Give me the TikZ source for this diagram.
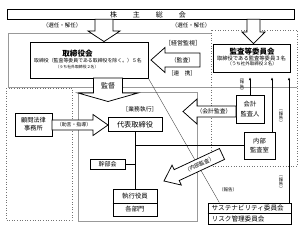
\documentclass[tikz,border=0pt]{standalone}
\usepackage{fontspec}
\setmainfont{Noto Sans CJK JP}
\usetikzlibrary{arrows.meta,calc}
\newcommand\fs[1]{\fontsize{#1}{#1}\selectfont}
\begin{document}
\begin{tikzpicture}[x=1pt,y=-1pt,
 box/.style={draw=black,line width=0.9pt,fill=white,inner sep=0pt,align=center},
 lbl/.style={inner sep=0pt,align=center},
 blk/.style={draw=black,line width=0.75pt,fill=white,line join=miter},
 grayframe/.style={draw=black!40,line width=0.6pt},
 dotframe/.style={draw=black!55,line width=0.6pt,dotted},
 rep/.style={draw=black,line width=0.45pt,-{Latex[length=2.6pt,width=2.4pt]},shorten >=5pt},
 link/.style={draw=black,line width=1pt},
 thinln/.style={draw=black!70,line width=0.4pt}]
\useasboundingbox (0,0) rectangle (300,226);

% frames
\draw[grayframe] (211,33) -- (8,33) -- (8,87) -- (297,87);
\draw[grayframe] (78,92) rectangle (197,221);
\draw[dotframe] (211,30) rectangle (297,166);
\draw[dotframe] (6,88) rectangle (72,220);

% boxes
\node[box,minimum width=287pt,minimum height=9.5pt] (kabu) at (150.5,14.25) {};
\node[lbl,font=\fs{7}] (kabuT) at (148,14.5) {株\hspace{16pt}主\hspace{16pt}総\hspace{16pt}会};

\node[box,minimum width=118pt,minimum height=36pt] (tori) at (89,60) {};
\node[lbl,font=\fs{7.6}\bfseries] (toriT) at (77.5,53.3) {取締役会};
\node[lbl,font=\fs{4.9}] (toriA) at (88,61) {取締役（監査等委員である取締役を除く。）５名};
\node[lbl,font=\fs{3.9}] (toriB) at (77,66.8) {（うち社外取締役２名）};

\node[box,minimum width=77pt,minimum height=28pt] (kansa) at (251.5,58) {};
\node[lbl,font=\fs{7.5}\bfseries] (kansaT) at (252,51.5) {監査等委員会};
\node[lbl,font=\fs{5.3}] (kansaA) at (251.5,58.2) {取締役である監査等委員３名};
\node[lbl,font=\fs{4.5}] (kansaB) at (252,64) {（うち社外取締役３名）};

\node[box,minimum width=37pt,minimum height=23pt,font=\fontsize{6.2}{7.8}\selectfont] (komon) at (33.5,124.5) {顧問法律\\事務所};
\node[box,minimum width=54pt,minimum height=13.5pt,font=\fs{7.2}] (daihyo) at (135,124.5) {代表取締役};
\node[box,minimum width=35pt,minimum height=10pt,font=\fs{6}] (kanbu) at (107.5,164) {幹部会};

\node[box,minimum width=44pt,minimum height=27pt] (shikko) at (135,202.5) {};
\draw[line width=0.6pt] (shikko.west |- 0,203) -- (shikko.east |- 0,203);
\node[lbl,font=\fs{6.4}] (shikkoT) at (135,196) {執行役員};
\node[lbl,font=\fs{6.4}] (bumon) at (135,209.5) {各部門};

\node[box,minimum width=28pt,minimum height=28pt,font=\fontsize{6.3}{9.5}\selectfont] (kaikei) at (250,109) {会計\\監査人};
\node[box,minimum width=31pt,minimum height=27pt,font=\fontsize{6.3}{9.5}\selectfont] (naibu) at (259.5,145.5) {内部\\監査室};

\node[box,minimum width=83pt,minimum height=21pt] (sus) at (249.5,213.5) {};
\draw[line width=0.6pt] (sus.west) -- (sus.east);
\node[lbl,font=\fs{6.6},anchor=west] (susT) at (211.5,208.4) {サステナビリティ委員会};
\node[lbl,font=\fs{6.6},anchor=west] (risk) at (211.5,218.8) {リスク管理委員会};

% thin connectors
\draw[thinln] (tori.south east) -- ($(sus.north west)!0.14!(sus.north east)$);
\draw[link] (daihyo.south) -- (shikko.north);
\draw[link] (kanbu.east) -- (kanbu.east -| daihyo.south);
\draw[link] (naibu.west -| daihyo.south) -- (naibu.west);
\draw[rep] (kaikei.north) -- (kaikei.north |- kansa.south);
\draw[rep] (naibu.north -| 272,0) -- (kansa.south -| 272,0);
\draw[rep] (sus.north -| 289,0) -- (kansa.south -| 289,0);

% block arrows
\draw[blk] (95,19.2) -- (113,19.2) -- (113,31) -- (120,31) -- (104,41.6) -- (88,31) -- (95,31) -- cycle;
\draw[blk] (247,19.2) -- (260,19.2) -- (260,32) -- (265,32) -- (253.5,43.6) -- (242,32) -- (247,32) -- cycle;
\draw[blk] (200,53) -- (165,53) -- (165,47.5) -- (151,60) -- (165,72.5) -- (165,67) -- (200,67) -- cycle;
\draw[blk] (93.5,78) -- (122.5,78) -- (122.5,93) -- (138,93) -- (108,101.5) -- (78,93) -- (93.5,93) -- cycle;
\draw[blk] (52,120) -- (93,120) -- (93,114.5) -- (108,125) -- (93,135.5) -- (93,130) -- (52,130) -- cycle;
\draw[blk] (236,106) -- (197,106) -- (197,99) -- (183,111.5) -- (197,124) -- (197,117) -- (236,117) -- cycle;
\begin{scope}[shift={(164,181)},rotate=25]
\draw[blk] (0,0) -- (14,-11) -- (14,-6) -- (64,-6) -- (64,6) -- (14,6) -- (14,11) -- cycle;
\node[lbl,font=\fs{5.3},rotate=25] (naibuL) at (39,0) {（内部監査）};
\end{scope}

% labels
\node[lbl,font=\fs{5.5}] (senL) at (62,25) {（選任・解任）};
\node[lbl,font=\fs{5.5}] (senR) at (191,25) {（選任・解任）};
\node[lbl,font=\fs{6}] (keiei) at (183,43.5) {［経営監視］};
\node[lbl,font=\fs{5.8}] (kansaL) at (182.5,60) {（監査）};
\node[lbl,font=\fs{5.6}] (renkei) at (182,73.5) {［連　携］};
\node[lbl,font=\fs{7}] (kantoku) at (108,86) {監督};
\node[lbl,font=\fs{5.8}] (gyomu) at (140,109) {［業務執行］};
\node[lbl,font=\fs{4.9}] (jogen) at (74,125) {（助言・指導）};
\node[lbl,font=\fs{5.8}] (kaikeiL) at (214,111.5) {（会計監査）};
\node[lbl,font=\fontsize{4.3}{4.4}\selectfont] (rep1) at (242,85.5) {︵\\報\\告\\︶};
\node[lbl,font=\fontsize{4.3}{4.4}\selectfont] (rep2) at (281,117) {︵\\報\\告\\︶};
\node[lbl,font=\fontsize{4.3}{4.4}\selectfont] (rep3) at (281,183) {︵\\報\\告\\︶};
\node[lbl,font=\fs{4.5}] (rep4) at (228,190) {（報告）};
\end{tikzpicture}
\end{document}
